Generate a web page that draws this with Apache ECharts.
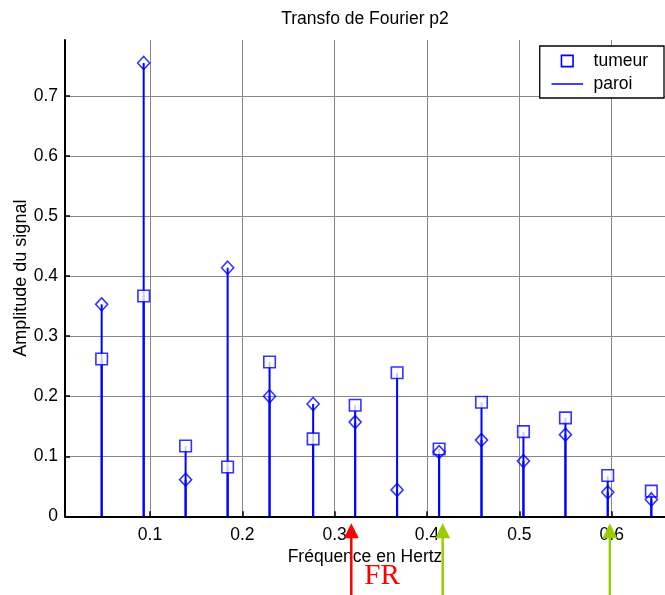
<!DOCTYPE html>
<html><head><meta charset="utf-8">
<script src="https://cdn.jsdelivr.net/npm/echarts@6/dist/echarts.min.js"></script>
<style>html,body{margin:0;padding:0;background:#fff}#c{width:665px;height:595px}</style>
</head><body><div id="c"></div>
<script>
// ---- data ----
const freq   = [0.0477,0.0932,0.1386,0.1841,0.2295,0.2767,0.3222,0.3676,0.4131,0.4590,0.5044,0.5499,0.5957,0.6429];
const tumeur = [0.262,0.367,0.117,0.082,0.257,0.129,0.185,0.239,0.112,0.190,0.141,0.164,0.068,0.042];
const paroi  = [0.353,0.755,0.061,0.414,0.200,0.187,0.157,0.044,0.107,0.127,0.092,0.136,0.040,0.028];
const xTicks = [0.1,0.2,0.3,0.4,0.5,0.6];
const yTicks = [0,0.1,0.2,0.3,0.4,0.5,0.6,0.7];
const xRange = [0.008, 0.6577];
const yRange = [0, 0.7933];
const redArrows = [0.318];
const greenArrows = [0.417, 0.598];
const redLabel = 'FR';

const FS = 17.5;
const BLUE = '#0000ff';
const fmt = v => (Math.abs(v) < 1e-9 ? '0' : (+v).toFixed(1));

const chart = echarts.init(document.getElementById('c'), null, {renderer:'canvas'});
const option = {
  animation:false,
  backgroundColor:'#fff',
  textStyle:{fontFamily:'"Liberation Sans", Arial, sans-serif', color:'#000'},
  title:{text:'Transfo de Fourier p2', left:365, top:10, textAlign:'center', padding:0,
    textStyle:{fontSize:FS, fontWeight:'normal', color:'#000', fontFamily:'"Liberation Sans", Arial, sans-serif'}},
  grid:{left:65, top:40, width:600, height:476.3, containLabel:false, outerBoundsMode:'none'},
  legend:{right:1, top:46, orient:'vertical', itemWidth:37, itemHeight:12, itemGap:5,
    padding:[6,16,5,11], borderColor:'#000', borderWidth:1.3, backgroundColor:'#fff', selectedMode:false,
    textStyle:{fontSize:FS, color:'#000'},
    data:[
      {name:'tumeur', icon:'path://M0,0M37,12M9.9,0.4h11.6v11.2h-11.6Z', itemStyle:{color:'#fff', borderColor:BLUE, borderWidth:1.6}},
      {name:'paroi', icon:'path://M0,0M37,12M0,5.2h31.6v1.6h-31.6Z', itemStyle:{color:BLUE, borderWidth:0}}
    ]},
  xAxis:{type:'value', min:xRange[0], max:xRange[1],
    name:'Fréquence en Hertz', nameLocation:'middle', nameGap:32, nameMoveOverlap:false,
    nameTextStyle:{fontSize:FS, color:'#000'},
    axisLine:{onZero:false, lineStyle:{color:'#000', width:2}},
    axisTick:{inside:true, length:5, customValues:xTicks, lineStyle:{color:'#000', width:1.5}},
    axisLabel:{customValues:xTicks, fontSize:FS, color:'#000', margin:10, formatter:fmt},
    splitLine:{show:true, lineStyle:{color:'#888', width:1}}},
  yAxis:{type:'value', min:yRange[0], max:yRange[1],
    name:'Amplitude du signal', nameLocation:'middle', nameGap:35, nameMoveOverlap:false,
    nameTextStyle:{fontSize:18, color:'#000'},
    axisLine:{show:true, onZero:false, lineStyle:{color:'#000', width:2}},
    axisTick:{show:true, inside:true, length:5, customValues:yTicks, lineStyle:{color:'#000', width:1.5}},
    axisLabel:{customValues:yTicks, fontSize:FS, color:'#000', margin:7, formatter:fmt},
    splitLine:{show:true, lineStyle:{color:'#888', width:1}}},
  series:[
    {name:'tumeur', type:'bar', data:freq.map((f,i)=>[f,tumeur[i]]), barWidth:2, barGap:'-100%',
      itemStyle:{color:BLUE}, z:2, silent:true},
    {name:'paroi', type:'bar', data:freq.map((f,i)=>[f,paroi[i]]), barWidth:2, barGap:'-100%',
      itemStyle:{color:BLUE}, z:2, silent:true},
    {name:'tumeur', type:'scatter', data:freq.map((f,i)=>[f,tumeur[i]]), symbol:'rect', symbolSize:11.5,
      itemStyle:{color:'#fff', borderColor:BLUE, borderWidth:1.6}, z:3, silent:true},
    {name:'paroi', type:'scatter', data:freq.map((f,i)=>[f,paroi[i]]), symbol:'diamond', symbolSize:[12,13],
      itemStyle:{color:'rgba(255,255,255,0)', borderColor:BLUE, borderWidth:1.6}, z:4, silent:true}
  ]
};
chart.setOption(option);

// annotation arrows below the axis
const axisY = chart.convertToPixel({yAxisIndex:0}, 0);
const tipY = axisY + 7;
const g = [];
function arrow(f, color){
  const x = chart.convertToPixel({xAxisIndex:0}, f);
  g.push({type:'line', shape:{x1:x, y1:tipY+12, x2:x, y2:600}, style:{stroke:color, lineWidth:2.5}, z:100});
  g.push({type:'polygon', shape:{points:[[x,tipY],[x-7.5,tipY+15],[x+7.5,tipY+15]]}, style:{fill:color}, z:101});
  return x;
}
const rx = redArrows.map(f => arrow(f, '#ff0000'));
greenArrows.forEach(f => arrow(f, '#9bcc00'));
g.push({type:'text', x:rx[0]+13, y:576, z:102,
  style:{text:redLabel, fontSize:29, fontFamily:'"Liberation Serif", "Times New Roman", serif', fill:'#ff0000', verticalAlign:'middle', align:'left'}});
chart.setOption({graphic:{elements:g}});
</script>
</body></html>
